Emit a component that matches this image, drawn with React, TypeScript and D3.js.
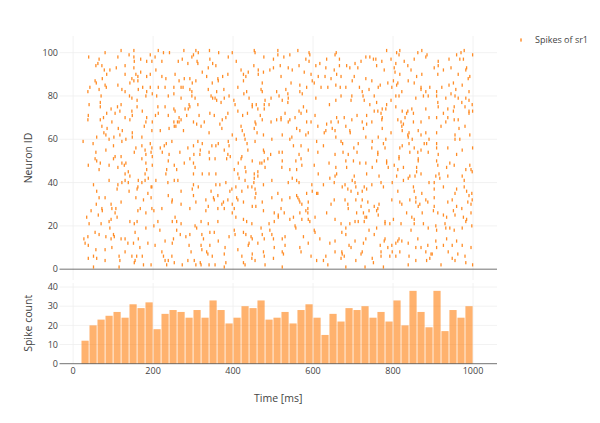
import React, { useEffect, useRef } from "react";
import * as d3 from "d3";

// spike raster: [time ms, neuron id]
const spikes: [number, number][] = [
  // 0-250 ms, upper half
  [80,100],[120,101],[152,101],[213,101],[226,100],[241,100],[39,98],[65,97],[112,98],[140,99],
  [152,98],[193,99],[205,98],[169,97],[184,96],[222,96],[62,95],[153,96],[72,94],[130,94],
  [57,94],[92,92],[78,92],[152,93],[197,96],[207,92],[108,93],[84,90],[73,88],[130,90],
  [147,88],[157,90],[169,91],[162,89],[184,89],[193,90],[222,89],[232,88],[55,87],[58,86],
  [80,85],[83,84],[112,85],[122,83],[142,86],[152,87],[162,87],[163,83],[174,84],[184,82],
  [193,84],[213,84],[230,84],[252,84],[42,84],[37,82],[65,83],[70,80],[130,82],[141,80],
  [147,79],[160,78],[182,80],[198,81],[209,80],[238,80],[252,81],[40,76],[68,77],[68,75],
  [95,74],[111,75],[120,76],[105,72],[117,73],[160,75],[173,73],[212,75],[230,75],[252,74],
  [38,71],[37,69],[84,72],[76,70],[97,68],[130,70],[147,73],[148,71],[142,69],[184,70],
  [182,68],[178,66],[198,68],[206,71],[213,72],[238,71],[252,68],[253,66],[68,69],[72,66],
  [85,65],[113,65],[123,64],[117,62],[148,63],[148,61],[172,61],[197,64],[218,64],[240,65],
  [77,63],[82,62],[102,61],[132,60],[90,60],[59,61],[25,59],[50,58],[101,57],[122,59],
  [157,56],[172,57],[180,55],[193,58],[197,56],[218,56],[228,57],[233,58],[247,59],[57,54],
  [82,55],[105,52],[120,52],[153,54],[182,53],[195,54],[198,52],[223,54],[240,53],
  // 250-500 ms, upper half
  [277,101],[307,101],[313,100],[341,101],[364,100],[398,100],[453,101],[455,100],[301,99],[297,98],
  [263,96],[273,97],[287,95],[310,96],[312,95],[342,97],[388,98],[408,96],[477,98],[501,97],
  [323,91],[349,95],[357,94],[338,93],[420,92],[426,90],[452,94],[463,92],[476,91],[492,92],
  [501,93],[255,90],[278,88],[292,88],[307,87],[334,89],[362,88],[363,87],[374,89],[387,90],
  [348,86],[432,89],[438,91],[463,90],[473,86],[265,87],[270,84],[298,86],[275,84],[292,83],
  [297,82],[338,83],[359,82],[377,83],[412,84],[426,87],[427,81],[434,82],[470,83],[473,82],
  [270,79],[297,80],[305,79],[345,80],[349,79],[355,79],[359,78],[378,79],[370,77],[390,80],
  [402,78],[440,79],[448,76],[458,76],[480,78],[495,79],[280,74],[290,76],[288,74],[312,76],
  [255,73],[265,70],[265,68],[284,71],[292,75],[315,71],[342,72],[353,71],[387,72],[382,70],
  [405,76],[412,73],[424,71],[436,72],[448,75],[462,74],[468,71],[478,74],[478,76],[490,76],
  [261,68],[257,66],[270,69],[276,64],[301,68],[309,67],[320,66],[328,68],[340,63],[367,67],
  [372,65],[373,69],[420,66],[423,64],[428,62],[455,68],[457,67],[453,65],[460,63],[473,69],
  [476,62],[495,68],[398,62],[408,60],[430,60],[435,58],[455,59],[497,60],[312,59],[323,58],
  [363,58],[357,57],[347,57],[388,59],[390,57],[267,54],[287,56],[301,57],[318,55],[317,53],
  [340,54],[378,55],[387,53],[393,52],[422,52],[437,55],[476,55],[478,54],[494,53],[302,53],
  // 500-750 ms, upper half
  [512,101],[562,101],[590,100],[592,99],[658,100],[512,99],[527,98],[542,99],[582,97],[666,97],
  [655,99],[634,97],[732,98],[742,98],[751,97],[518,94],[538,93],[548,92],[565,94],[590,96],
  [607,94],[617,95],[632,93],[653,92],[666,94],[684,94],[692,93],[705,95],[720,96],[712,93],
  [520,89],[578,91],[595,90],[598,87],[613,89],[630,89],[645,88],[659,90],[670,89],[703,89],
  [698,87],[732,88],[747,87],[545,86],[567,85],[603,86],[584,84],[620,84],[637,84],[657,85],
  [668,84],[682,84],[716,84],[723,82],[740,83],[509,82],[515,80],[523,78],[532,83],[537,81],
  [538,79],[537,77],[567,82],[573,81],[607,79],[657,78],[641,76],[670,80],[697,80],[695,78],
  [725,80],[728,78],[742,76],[753,80],[576,75],[584,73],[570,72],[530,72],[520,70],[520,69],
  [509,69],[538,68],[542,69],[555,70],[565,73],[605,71],[584,68],[595,68],[612,66],[634,67],
  [645,68],[659,70],[663,68],[678,70],[682,66],[697,69],[710,71],[723,68],[734,71],[734,67],
  [747,68],[753,73],[559,65],[567,64],[582,62],[588,63],[628,63],[632,64],[648,65],[655,64],
  [692,64],[693,63],[726,65],[732,61],[523,62],[547,61],[542,60],[609,59],[626,57],[657,61],
  [670,59],[674,58],[713,58],[748,59],[515,54],[523,54],[551,57],[565,53],[570,57],[588,55],
  [612,54],[655,53],[675,54],[688,53],[702,56],[710,54],[747,56],
  // 750-1000 ms, upper half
  [784,101],[809,100],[817,101],[815,99],[862,100],[872,101],[882,98],[885,99],[913,96],[940,97],
  [959,99],[970,100],[978,101],[967,97],[976,97],[999,99],[757,97],[772,96],[795,97],[807,95],
  [828,96],[853,97],[759,94],[778,92],[803,93],[805,91],[817,90],[837,94],[845,92],[859,89],
  [872,90],[903,93],[913,94],[926,92],[912,90],[945,93],[963,90],[982,92],[984,93],[992,89],
  [988,88],[763,84],[768,85],[787,86],[797,84],[812,86],[801,87],[809,85],[838,87],[853,86],
  [870,84],[870,83],[882,82],[888,80],[876,80],[892,84],[909,82],[909,80],[922,84],[932,79],
  [940,85],[945,81],[951,86],[957,83],[955,80],[973,85],[990,82],[990,78],[982,79],[759,77],
  [773,74],[784,76],[782,74],[795,78],[807,80],[807,75],[815,80],[822,82],[837,73],[823,73],
  [847,74],[851,72],[857,79],[882,74],[912,77],[913,75],[926,72],[937,74],[953,75],[951,73],
  [963,79],[972,77],[980,75],[990,73],[998,76],[762,73],[770,72],[773,70],[772,69],[812,69],
  [820,68],[826,67],[830,70],[834,72],[851,68],[870,68],[890,70],[909,70],[920,66],[932,68],
  [937,70],[953,69],[963,69],[980,66],[990,72],[999,73],[773,65],[795,63],[822,66],[823,64],
  [840,63],[837,62],[863,64],[870,62],[882,63],[909,63],[955,62],[965,65],[992,62],[763,61],
  [782,60],[838,61],[848,60],[878,58],[890,60],[909,58],[955,60],[967,60],[776,58],[823,57],
  [840,58],[853,56],[862,54],[870,55],[884,58],[888,54],[909,56],[913,53],[937,56],[959,53],
  [973,55],[762,54],[762,53],[780,56],[817,56],[815,52],[842,54],[999,56],
  // 0-250 ms, lower half
  [38,48],[55,51],[59,50],[68,49],[65,46],[90,48],[101,51],[112,47],[122,49],[132,49],
  [128,48],[138,45],[130,44],[172,51],[182,49],[184,46],[180,44],[198,48],[238,50],[234,46],
  [232,44],[253,48],[90,41],[112,39],[110,37],[122,40],[130,41],[142,43],[138,40],[163,41],
  [162,38],[172,40],[180,41],[188,42],[195,38],[207,41],[237,40],[253,41],[51,39],[59,36],
  [65,33],[80,33],[58,30],[45,27],[34,24],[63,25],[73,27],[72,28],[95,30],[97,28],
  [107,28],[105,26],[110,24],[120,31],[140,36],[160,37],[157,33],[176,32],[187,35],[197,38],
  [195,33],[162,27],[168,28],[182,26],[197,28],[202,27],[222,28],[212,22],[238,34],[248,32],
  [247,31],[40,21],[70,21],[90,22],[95,23],[92,19],[142,22],[153,21],[160,22],[155,17],
  [182,19],[202,20],[217,18],[248,22],[27,14],[30,12],[37,15],[55,17],[65,16],[82,15],
  [101,16],[103,15],[120,14],[95,14],[130,14],[137,12],[163,14],[167,10],[187,12],[205,11],
  [230,13],[251,14],[248,12],[38,11],[57,9],[51,6],[59,5],[80,9],[97,10],[115,6],
  [117,4],[130,8],[147,6],[151,12],[155,4],[159,6],[173,6],[222,8],[226,6],[230,4],
  [238,4],[247,6],[38,5],[51,1],[80,4],[115,1],[153,3],[176,2],[195,2],[234,2],[253,3],
  // 250-500 ms, lower half
  [278,49],[292,51],[301,49],[305,47],[341,51],[355,51],[384,51],[413,49],[420,51],[430,47],
  [448,50],[467,49],[478,50],[480,47],[487,51],[259,46],[301,44],[323,44],[340,44],[357,44],
  [403,46],[412,44],[415,42],[432,45],[453,44],[462,45],[462,43],[472,49],[262,41],[301,39],
  [298,37],[313,38],[270,36],[345,36],[357,39],[362,34],[367,39],[382,40],[392,36],[397,37],
  [407,38],[422,36],[430,41],[437,38],[447,38],[452,40],[453,42],[455,37],[457,35],[476,39],
  [497,41],[301,34],[307,31],[332,32],[351,33],[353,32],[376,31],[372,30],[362,28],[332,27],
  [338,29],[378,28],[387,32],[409,33],[412,32],[426,31],[398,30],[403,28],[398,26],[407,24],
  [455,33],[457,29],[448,29],[473,31],[476,27],[497,33],[503,26],[270,30],[255,24],[259,22],
  [270,21],[292,28],[320,22],[338,21],[362,22],[426,23],[434,22],[447,21],[470,19],[490,21],
  [503,22],[259,18],[268,16],[282,15],[292,16],[305,20],[309,19],[322,16],[326,14],[342,17],
  [353,17],[363,13],[390,15],[380,10],[403,18],[405,16],[426,17],[432,16],[445,15],[448,14],
  [440,12],[438,11],[462,12],[473,16],[478,14],[492,18],[497,16],[501,14],[503,10],[290,11],
  [295,8],[320,11],[322,9],[334,8],[337,7],[342,11],[348,6],[378,7],[382,3],[412,9],
  [422,6],[426,3],[430,2],[448,7],[447,5],[455,4],[476,8],[478,6],[480,2],[501,5],
  [273,2],[287,4],[303,4],[307,2],[318,3],[320,2],[340,2],[355,2],[378,1],
  // 500-750 ms, lower half
  [523,50],[522,47],[542,46],[557,50],[559,46],[570,51],[572,48],[603,48],[613,44],[640,49],
  [657,47],[659,44],[682,50],[684,47],[701,50],[717,49],[732,49],[734,44],[748,47],[538,40],
  [548,42],[559,41],[565,40],[597,39],[598,36],[609,35],[626,39],[642,42],[653,40],[655,43],
  [673,38],[680,39],[687,37],[695,36],[698,41],[703,43],[705,40],[707,38],[712,35],[728,38],
  [723,36],[734,37],[747,39],[512,35],[522,32],[542,33],[559,34],[562,33],[567,31],[572,30],
  [565,32],[584,35],[588,31],[612,35],[587,28],[582,27],[645,30],[653,32],[680,32],[687,30],
  [688,28],[707,32],[709,26],[720,29],[723,32],[726,26],[730,24],[737,31],[740,27],[753,29],
  [513,25],[513,24],[520,28],[528,26],[542,23],[551,24],[567,26],[572,23],[587,26],[588,23],
  [592,22],[605,24],[634,26],[655,23],[670,21],[682,19],[692,21],[705,22],[713,22],[728,22],
  [734,24],[555,20],[557,19],[523,14],[530,15],[576,15],[603,18],[605,17],[588,12],[567,10],
  [617,14],[642,12],[655,13],[672,17],[682,16],[690,11],[695,10],[705,13],[726,12],[732,14],
  [740,18],[753,16],[530,11],[523,8],[526,7],[570,8],[595,6],[609,4],[626,4],[632,6],
  [637,2],[655,8],[672,8],[673,7],[670,5],[678,6],[707,4],[720,7],[723,8],[748,5],
  [751,3],[730,1],[682,1],[523,1],
  // 750-1000 ms, lower half
  [759,50],[784,50],[784,49],[815,51],[863,51],[863,50],[909,50],[912,48],[942,49],[953,48],
  [934,47],[992,48],[995,46],[998,45],[982,46],[788,47],[803,48],[812,46],[826,47],[859,47],
  [859,45],[870,44],[842,43],[855,43],[809,43],[765,43],[903,40],[907,43],[915,44],[917,42],
  [937,43],[973,43],[978,41],[890,40],[770,40],[798,40],[826,41],[838,42],[776,38],[851,38],
  [853,36],[872,35],[903,37],[926,38],[959,37],[955,35],[978,38],[984,36],[997,35],[990,34],
  [812,36],[797,32],[765,30],[762,28],[759,27],[763,25],[817,31],[822,30],[842,32],[857,33],
  [857,31],[867,30],[863,29],[882,32],[887,31],[903,33],[903,29],[937,31],[948,32],[959,29],
  [972,28],[987,31],[995,30],[998,32],[834,26],[847,24],[873,26],[901,27],[912,26],[926,25],
  [934,24],[955,25],[951,27],[976,24],[984,23],[995,26],[982,22],[780,22],[792,21],[801,23],
  [759,19],[780,21],[820,21],[853,23],[853,21],[876,21],[888,19],[907,20],[909,18],[930,21],
  [932,19],[942,19],[953,18],[973,19],[997,20],[845,18],[862,14],[815,14],[812,13],[822,13],
  [838,12],[780,14],[778,13],[768,11],[787,10],[797,11],[807,12],[798,8],[807,6],[770,8],
  [770,6],[792,6],[817,8],[840,6],[857,10],[870,10],[882,8],[895,7],[909,10],[887,11],
  [907,13],[926,11],[934,14],[938,8],[948,11],[959,13],[962,7],[973,11],[980,6],[995,10],
  [838,2],[857,4],[884,4],[892,5],[898,7],[920,2],[948,5],[955,4],[982,3],[776,1],[999,2],
];

// histogram of spikes, 20 ms bins
const binStarts = [
  20, 40, 60, 80, 100, 120, 140, 160, 180, 200, 220, 240, 260, 280, 300, 320, 340,
  360, 380, 400, 420, 440, 460, 480, 500, 520, 540, 560, 580, 600, 620, 640, 660,
  680, 700, 720, 740, 760, 780, 800, 820, 840, 860, 880, 900, 920, 940, 960, 980,
];
const binCounts = [
  12, 20, 23, 25, 27, 24, 31, 29, 32, 18, 26, 28, 27, 24, 28, 24, 33,
  28, 21, 24, 30, 29, 33, 23, 24, 27, 21, 28, 31, 24, 15, 26, 22,
  29, 28, 30, 24, 27, 22, 33, 20, 38, 27, 19, 38, 17, 28, 24, 30,
];
const binWidth = 20;

const xTicks = [0, 200, 400, 600, 800, 1000];
const yTicksTop = [0, 20, 40, 60, 80, 100];
const yTicksBottom = [0, 10, 20, 30, 40];

const W = 600;
const H = 423;
const FONT = '"Open Sans", "Noto Sans", sans-serif';
const ORANGE = "#ff7f0e";

const App = () => {
  const ref = useRef<SVGSVGElement>(null);

  useEffect(() => {
    document.body.style.margin = "0";
    const svg = d3.select(ref.current);
    svg.selectAll("*").remove();

    const left = 59.5,
      right = 497;
    const x = d3.scaleLinear().domain([-34, 1060]).range([left, right]);
    const yTop = d3.scaleLinear().domain([-5, 107.7]).range([280, 36]);
    const yBot = d3.scaleLinear().domain([0, 42.1]).range([363.7, 283]);

    // grids
    const grid = svg.append("g").attr("stroke", "#eee").attr("stroke-width", 0.75);
    [yTop, yBot].forEach((y) => {
      const [b, t] = y.range();
      grid
        .selectAll(null)
        .data(xTicks)
        .join("line")
        .attr("x1", (d) => x(d))
        .attr("x2", (d) => x(d))
        .attr("y1", t)
        .attr("y2", b);
    });
    grid
      .selectAll(null)
      .data(yTicksTop.slice(1))
      .join("line")
      .attr("x1", left)
      .attr("x2", right)
      .attr("y1", (d) => yTop(d))
      .attr("y2", (d) => yTop(d));
    grid
      .selectAll(null)
      .data(yTicksBottom.slice(1))
      .join("line")
      .attr("x1", left)
      .attr("x2", right)
      .attr("y1", (d) => yBot(d))
      .attr("y2", (d) => yBot(d));

    // histogram bars
    svg
      .append("g")
      .selectAll("rect")
      .data(binStarts)
      .join("rect")
      .attr("x", (d) => x(d) + 0.4)
      .attr("width", (d) => x(d + binWidth) - x(d) - 0.8)
      .attr("y", (d, i) => yBot(binCounts[i]))
      .attr("height", (d, i) => yBot(0) - yBot(binCounts[i]))
      .attr("fill", ORANGE)
      .attr("fill-opacity", 0.6);

    // zero lines
    [yTop, yBot].forEach((y) => {
      svg
        .append("line")
        .attr("x1", left)
        .attr("x2", right)
        .attr("y1", y(0))
        .attr("y2", y(0))
        .attr("stroke", "#444")
        .attr("stroke-width", 0.75);
    });

    // spikes
    svg
      .append("g")
      .selectAll("rect")
      .data(spikes)
      .join("rect")
      .attr("x", (d) => x(d[0]) - 0.65)
      .attr("y", (d) => yTop(d[1]) - 1.6)
      .attr("width", 1.3)
      .attr("height", 3.2)
      .attr("fill", ORANGE)
      .attr("opacity", 0.9);

    // tick labels
    const txt = svg
      .append("g")
      .attr("font-family", FONT)
      .attr("font-size", 9)
      .attr("fill", "#444");
    txt
      .selectAll(null)
      .data(yTicksTop)
      .join("text")
      .attr("x", left - 1.5)
      .attr("y", (d) => yTop(d))
      .attr("dy", "0.35em")
      .attr("text-anchor", "end")
      .text((d) => d);
    txt
      .selectAll(null)
      .data(yTicksBottom)
      .join("text")
      .attr("x", left - 1.5)
      .attr("y", (d) => yBot(d))
      .attr("dy", "0.35em")
      .attr("text-anchor", "end")
      .text((d) => d);
    txt
      .selectAll(null)
      .data(xTicks)
      .join("text")
      .attr("x", (d) => x(d))
      .attr("y", 370.7)
      .attr("dy", "0.35em")
      .attr("text-anchor", "middle")
      .text((d) => d);

    // axis titles
    const title = svg
      .append("g")
      .attr("font-family", FONT)
      .attr("font-size", 10.5)
      .attr("fill", "#444")
      .attr("text-anchor", "middle");
    title
      .append("text")
      .attr("x", (left + right) / 2)
      .attr("y", 398)
      .attr("dy", "0.35em")
      .text("Time [ms]");
    title
      .append("text")
      .attr("transform", `translate(28, ${(yTop.range()[0] + yTop.range()[1]) / 2}) rotate(-90)`)
      .attr("dy", "0.35em")
      .text("Neuron ID");
    title
      .append("text")
      .attr("transform", `translate(28, ${(yBot.range()[0] + yBot.range()[1]) / 2}) rotate(-90)`)
      .attr("dy", "0.35em")
      .text("Spike count");

    // legend
    const legend = svg.append("g").attr("transform", "translate(521, 40)");
    legend
      .append("rect")
      .attr("x", -0.65)
      .attr("y", -1.6)
      .attr("width", 1.3)
      .attr("height", 3.2)
      .attr("fill", ORANGE);
    legend
      .append("text")
      .attr("x", 14)
      .attr("dy", "0.35em")
      .attr("font-family", FONT)
      .attr("font-size", 9)
      .attr("fill", "#444")
      .text("Spikes of sr1");
  }, []);

  return (
    <div id="chartD3">
      <svg
        ref={ref}
        width={W}
        height={H}
        style={{ position: "absolute", left: 0, top: 0, background: "#fff" }}
      ></svg>
    </div>
  );
};

export default App;
